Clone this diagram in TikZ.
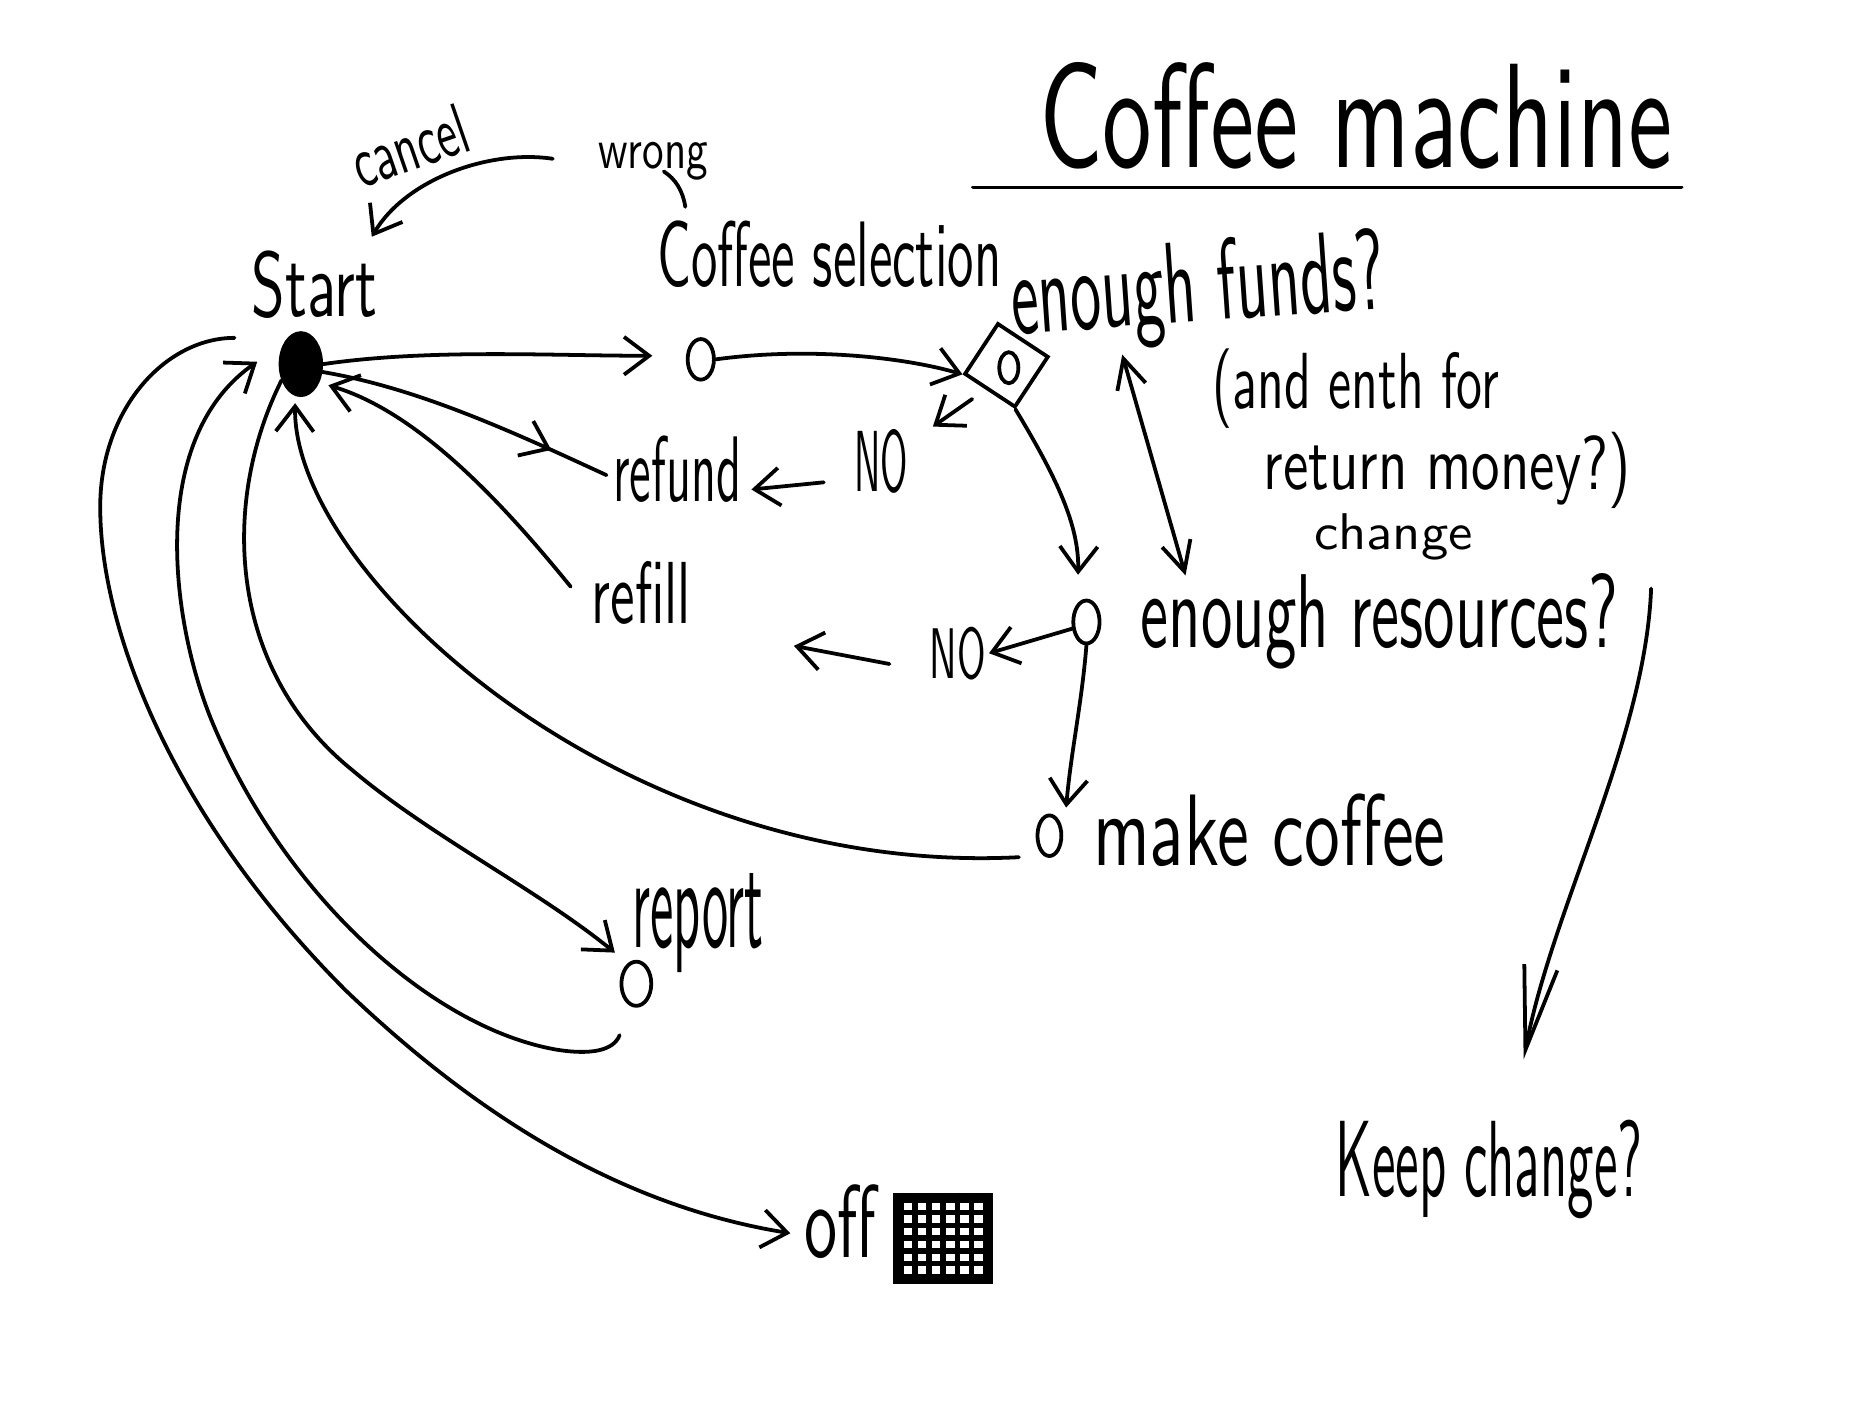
\documentclass[tikz,border=0pt]{standalone}
\usepackage{fontspec}
\usepackage{graphicx}
\usetikzlibrary{arrows.meta,calc,shapes.geometric,decorations.markings}
\newdimen\hu
\hu=0.01cm
\newcommand{\hw}[3]{\resizebox{#1\hu}{#2\hu}{\sffamily #3}}
\begin{document}
\begin{tikzpicture}[x=0.01cm,y=-0.01cm,
  ln/.style={line width=0.9pt, line cap=round, line join=round},
  arr/.style={ln, -{Straight Barb[length=6pt,width=9pt]}},
  dbl/.style={ln, {Straight Barb[length=7pt,width=7pt]}-{Straight Barb[length=7pt,width=7pt]}},
  txt/.style={inner sep=0pt, anchor=base west},
  st/.style={draw, ellipse, line width=0.9pt, inner sep=0pt, minimum width=22\hu, minimum height=34\hu}]
\fill[white] (0,0) rectangle (1568,1176);
\useasboundingbox (0,0) rectangle (1568,1176);

% ---- texts
\node[txt] (title) at (870,140) {\hw{530}{88}{Coffee machine}};
\draw[ln] ($(title.base west)+(-55,17)$) -- ($(title.base east)+(7,17)$);
\node[inner sep=0pt, rotate=19] (cancel) at (343,122) {\hw{100}{42}{cancel}};
\node[inner sep=0pt] (wrong) at (547,135) {\hw{92}{22}{wrong}};
\node[txt] (starttxt) at (210,265) {\hw{105}{55}{Start}};
\node[txt] (seltxt) at (550,240) {\hw{288}{55}{Coffee selection}};
\node[txt, rotate=4] (funds) at (848,280) {\hw{314}{68}{enough funds?}};
\node[txt] (andtxt) at (1015,342) {\hw{240}{50}{(and enth for}};
\node[txt] (rettxt) at (1058,410) {\hw{307}{48}{return money?)}};
\node[txt] (chgtxt) at (1100,460) {\hw{133}{30}{change}};
\node[txt] (no1) at (715,412) {\hw{45}{52}{NO}};
\node[txt] (refund) at (513,420) {\hw{107}{55}{refund}};
\node[txt] (refill) at (495,522) {\hw{83}{52}{refill}};
\node[txt] (no2) at (778,568) {\hw{47}{43}{NO}};
\node[txt] (resq) at (955,542) {\hw{400}{62}{enough resources?}};
\node[txt] (maketxt) at (915,725) {\hw{295}{60}{make coffee}};
\node[txt] (reptxt) at (529,794) {\hw{110}{62}{report}};
\node[txt] (offtxt) at (673,1053) {\hw{60}{61}{off}};
\node[txt] (keep) at (1118,1002) {\hw{257}{64}{Keep change?}};

% ---- states
\node[draw, fill=black, ellipse, line width=0.9pt, inner sep=0pt, minimum width=34\hu, minimum height=52\hu] (start) at (252,305) {};
\node[st] (sel) at (587,301) {};
\node[draw, rectangle, line width=0.9pt, minimum size=50\hu, inner sep=0pt, rotate=56.6] (dia) at (843,306) {};
\node[st, minimum width=16\hu, minimum height=26\hu] (dcirc) at (845,308) {};
\node[st, minimum height=36\hu] (res) at (910,521) {};
\node[st, minimum width=20\hu, minimum height=34\hu] (make) at (879,700) {};
\node[st, minimum width=25\hu, minimum height=37\hu] (rep) at (533,824) {};
\node[draw, line width=1.2pt, minimum width=80\hu, minimum height=72\hu, inner sep=0pt] (offsq) at (790,1037) {};
\foreach \t in {0.08,0.22,0.36,0.5,0.64,0.78,0.92} {
  \draw[line width=1.3pt] ($(offsq.north west)!\t!(offsq.north east)$) -- ($(offsq.south west)!\t!(offsq.south east)$);
  \draw[line width=1.3pt] ($(offsq.north west)!\t!(offsq.south west)$) -- ($(offsq.north east)!\t!(offsq.south east)$);
}

% ---- connectors
\draw[arr] (start.east) .. controls (360,292) and (460,298) .. ($(sel.west)+(-28,-3)$);
\draw[arr] (sel.east) .. controls (680,290) and (760,300) .. (dia.north west);
\draw[arr] ($(dia.west)+(-14,6)$) -- ($(no1.north east)+(20,-2)$);
\draw[arr] ($(no1.base west)+(-25,-8)$) -- ($(refund.base east)+(8,-10)$);
\draw[ln, postaction={decorate}, decoration={markings, mark=at position 0.8 with {\arrow{Straight Barb[length=6pt,width=9pt]}}}]
  (start.-20) .. controls (350,325) and (430,362) .. ($(refund.base west)+(-5,-22)$);
\draw[arr, shorten >=8\hu] ($(refill.west)+(-17,-5)$) .. controls (420,420) and (350,345) .. (start.-45);
\draw[arr, shorten >=6\hu] ($(make.west)+(-14,18)$) .. controls (520,735) and (245,480) .. (start.-100);
\draw[arr] (start.-140) .. controls (185,420) and (190,560) .. (295,645)
  .. controls (360,700) and (450,745) .. ($(rep.north)+(-18,-6)$);
\draw[arr] ($(rep.south)+(-14,23)$) .. controls (514,880) and (495,884) .. (465,879)
  .. controls (360,860) and (240,750) .. (180,610)
  .. controls (145,530) and (120,370) .. ($(start.west)+(-18,-2)$);
\draw[arr] ($(start.west)+(-37,-22)$) .. controls (140,283) and (86,340) .. (84,420)
  .. controls (82,520) and (140,680) .. (290,830)
  .. controls (400,935) and (520,1010) .. ($(offtxt.base west)+(-11,-20)$);
\draw[arr] (dia.south west) .. controls (885,400) and (904,440) .. ($(res.north)+(-7,-20)$);
\draw[arr] (res.205) -- ($(no2.east)+(2,0)$);
\coordinate (noend) at (665,541);
\draw[arr] ($(no2.west)+(-33,9)$) -- (noend);
\draw[arr] (res.south) .. controls (906,590) and (897,630) .. ($(make.north)+(14,-5)$);
\draw[dbl] ($(funds.base west)+(92,17)$) -- ($(resq.base west)+(38,-60)$);
\coordinate (kctop) at (1383,493);
\draw[ln, -{Straight Barb[length=20pt,width=8pt]}] (kctop) .. controls (1378,620) and (1300,760) .. ($(keep.north)+(29,-50)$);
\coordinate (cancelstart) at (463,133);
\draw[arr] (cancelstart) .. controls (410,125) and (340,150) .. ($(starttxt.north east)+(-5,-11)$);
\draw[ln] ($(wrong.south)+(9,-8)$) .. controls (566,150) and (572,160) .. ($(seltxt.north west)+(24,-11)$);
\end{tikzpicture}
\end{document}
